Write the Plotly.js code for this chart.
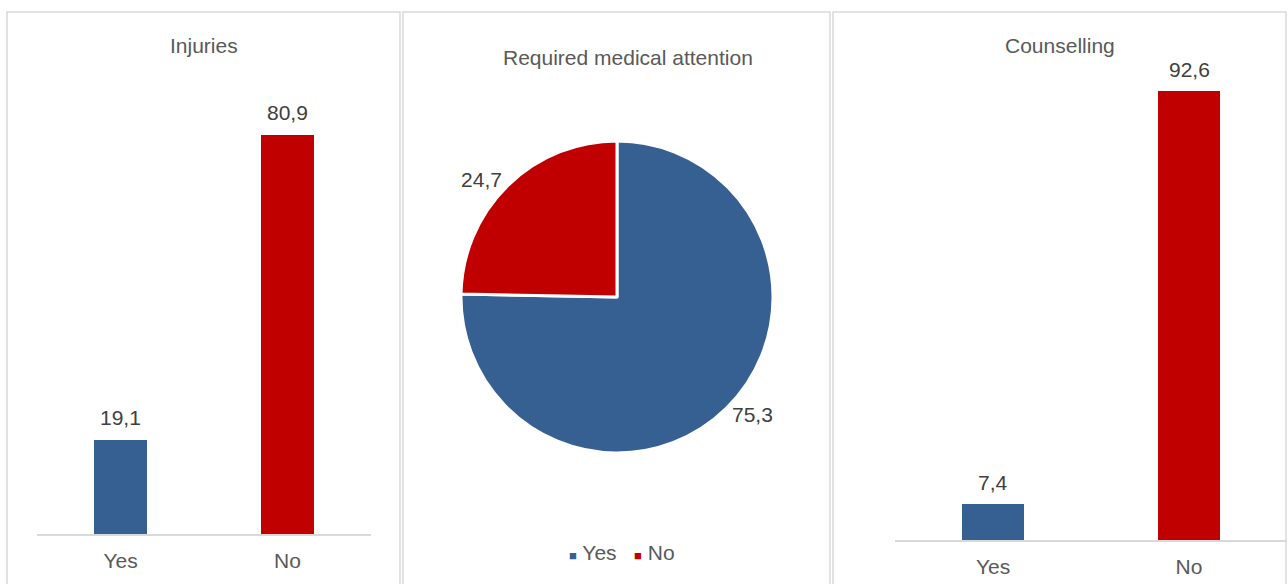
<!DOCTYPE html>
<html>
<head>
<meta charset="utf-8">
<script src="https://cdn.plot.ly/plotly-3.0.1.min.js"></script>
<style>
  html, body { margin: 0; padding: 0; background: #ffffff; }
  #chart { width: 1288px; height: 584px; }
</style>
</head>
<body>
<div id="chart"></div>
<script>
// Survey outcomes, percent of respondents
const categories = ['Yes', 'No'];
const injuries = [19.1, 80.9];
const medicalAttention = [75.3, 24.7];
const counselling = [7.4, 92.6];
const panelTitles = ['Injuries', 'Required medical attention', 'Counselling'];
const sliceColors = ['#366092', '#C00000'];

const W = 1288, H = 584;
const px = v => v / W;           // horizontal pixel -> paper
const py = v => 1 - v / H;       // vertical pixel (from top) -> paper
const fmt = v => v.toFixed(1).replace('.', ',');

const FONT = 'Liberation Sans, Arial, sans-serif';
const SIZE = 21;
const GREY = '#595959';
const DARK = '#404040';
const LINE = '#d9d9d9';

const traces = [
  {
    type: 'bar', x: categories, y: injuries,
    xaxis: 'x', yaxis: 'y', width: 0.32,
    marker: { color: sliceColors }, hoverinfo: 'x+y'
  },
  {
    type: 'pie', values: medicalAttention, labels: categories,
    sort: false, direction: 'clockwise', rotation: 0,
    marker: { colors: sliceColors, line: { color: '#ffffff', width: 3 } },
    textinfo: 'text', text: medicalAttention.map(fmt),
    textposition: 'outside',
    outsidetextfont: { family: FONT, size: SIZE, color: DARK },
    domain: { x: [px(461), px(773)], y: [py(453), py(141)] },
    showlegend: false
  },
  {
    type: 'bar', x: categories, y: counselling,
    xaxis: 'x2', yaxis: 'y2', width: 0.32,
    marker: { color: sliceColors }, hoverinfo: 'x+y'
  }
];

const xAxisStyle = {
  type: 'category', showline: true, linecolor: LINE, linewidth: 2,
  ticks: '', showgrid: false, zeroline: false, fixedrange: true,
  ticklabelstandoff: 7,
  tickfont: { family: FONT, size: SIZE, color: GREY }
};
const yAxisStyle = { visible: false, showgrid: false, zeroline: false, fixedrange: true };

// Value labels above each bar
const barLabels = [];
[[injuries, 'x', 'y', 9], [counselling, 'x2', 'y2', 8]].forEach(([vals, xr, yr, shift]) => {
  vals.forEach((v, i) => barLabels.push({
    xref: xr, yref: yr, x: categories[i], y: v,
    text: fmt(v), showarrow: false, yanchor: 'bottom', yshift: shift,
    font: { family: FONT, size: SIZE, color: DARK }
  }));
});

const titlePos = [[204, 46], [628, 57], [1060, 46]];
const titleAnns = panelTitles.map((t, i) => ({
  xref: 'paper', yref: 'paper', x: px(titlePos[i][0]), y: py(titlePos[i][1]),
  xanchor: 'center', yanchor: 'middle', text: t, showarrow: false,
  font: { family: FONT, size: SIZE, color: GREY }
}));

// Pie legend
const legendText = categories.map((c, i) =>
  '<span style="color:' + sliceColors[i] + ';font-size:13px">■</span> ' + c
).join('   ');
const legendAnn = {
  xref: 'paper', yref: 'paper', x: px(622), y: py(552),
  xanchor: 'center', yanchor: 'middle', text: legendText, showarrow: false,
  font: { family: FONT, size: SIZE, color: GREY }
};

// Panel frames
const frames = [[7, 400], [403, 830], [833, 1286]].map(([a, b]) => ({
  type: 'rect', xref: 'paper', yref: 'paper',
  x0: px(a), x1: px(b), y0: -0.1, y1: py(12),
  line: { color: LINE, width: 1.5 }, fillcolor: 'rgba(0,0,0,0)', layer: 'below'
}));

const layout = {
  width: W, height: H,
  margin: { l: 0, r: 0, t: 0, b: 0 },
  paper_bgcolor: '#ffffff', plot_bgcolor: 'rgba(0,0,0,0)',
  showlegend: false, bargap: 0,
  font: { family: FONT, color: GREY },
  xaxis: Object.assign({}, xAxisStyle, { domain: [px(37), px(371)], anchor: 'y' }),
  yaxis: Object.assign({}, yAxisStyle, { domain: [py(534), py(90)], range: [0, 90], anchor: 'x' }),
  xaxis2: Object.assign({}, xAxisStyle, { domain: [px(895), px(1287)], anchor: 'y2' }),
  yaxis2: Object.assign({}, yAxisStyle, { domain: [py(540), py(55)], range: [0, 100], anchor: 'x2' }),
  shapes: frames,
  annotations: titleAnns.concat(barLabels, [legendAnn])
};

Plotly.newPlot('chart', traces, layout, { displayModeBar: false, staticPlot: true });
</script>
</body>
</html>
